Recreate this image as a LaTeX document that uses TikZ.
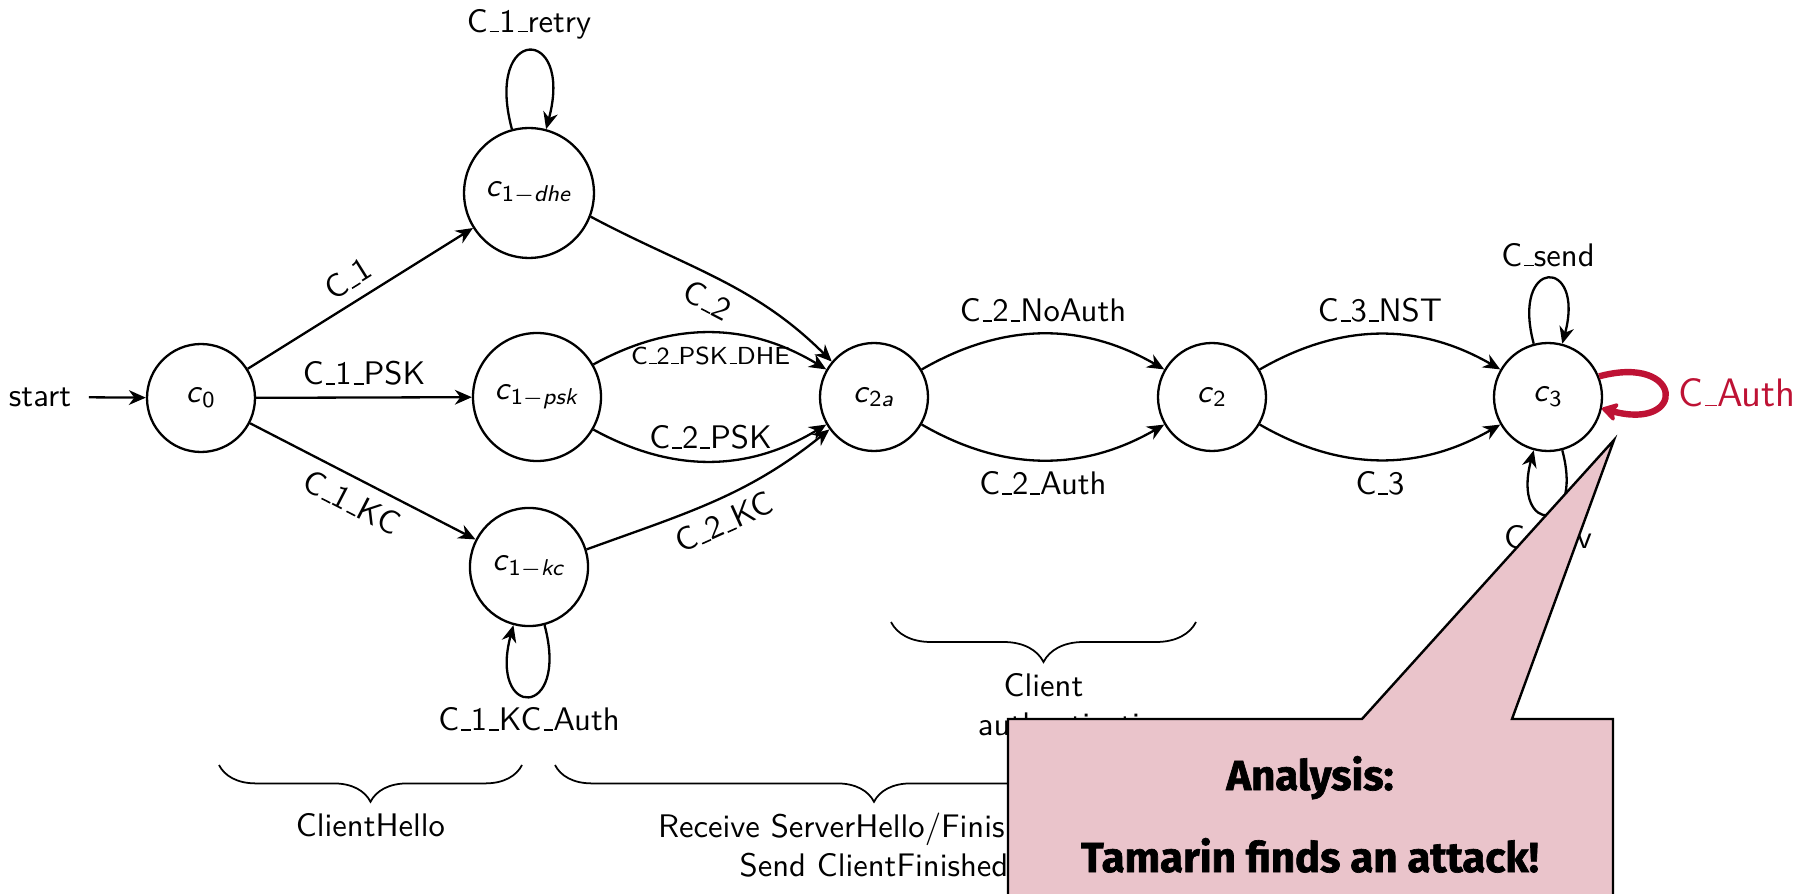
\documentclass[tikz,border=0pt]{standalone}
\usepackage{fontspec}
\usetikzlibrary{arrows.meta,decorations.pathreplacing}
\newfontfamily\calloutfont{Fira Sans}[BoldFeatures={FakeBold=1.6}]
\definecolor{authred}{RGB}{190,18,52}
\definecolor{calloutpink}{RGB}{234,196,203}
% underscore drawn as a short baseline rule
\newcommand\us{\leavevmode\kern.06em\vbox{\hrule width.3em height .5pt}}
% state name: italic c with a subscript
\newcommand\cst[1]{\textit{c}\textsubscript{#1}}
\begin{document}
\begin{tikzpicture}[x=0.3125pt,y=0.3125pt,
  font=\sffamily\fontsize{10.2}{12.2}\selectfont,
  >={Stealth[length=5.3pt,width=4.6pt,inset=1.7pt]},
  stnode/.style={circle, draw, line width=0.72pt, inner sep=0pt},
  tr/.style={->, line width=0.72pt},
  small/.style={font=\sffamily\fontsize{7.7}{9.5}\selectfont, inner sep=4pt},
  bracedown/.style={decorate, line width=0.55pt, decoration={brace, mirror, amplitude=#1}},
  callfont/.style={font={\calloutfont\bfseries\fontsize{13.1}{15}\selectfont}}]
\useasboundingbox (0,0) rectangle (1806,-894);

% states
\node[stnode, minimum size=33.75pt] (c0) at (201,-398) {\cst{0}};
\node[stnode, minimum size=40.6pt] (c1dhe) at (529,-193) {\cst{1$-$\textit{dhe}}};
\node[stnode, minimum size=40pt] (c1psk) at (537,-397) {\cst{1$-$\textit{psk}}};
\node[stnode, minimum size=36.9pt] (c1kc) at (529,-567) {\cst{1$-$\textit{kc}}};
\node[stnode, minimum size=33.75pt] (c2a) at (874,-397) {\cst{2\textit{a}}};
\node[stnode, minimum size=33.75pt] (c2) at (1212,-397) {\cst{2}};
\node[stnode, minimum size=33.75pt] (c3) at (1548,-397) {\cst{3}};
\node[inner sep=5.4pt] (start) at (40,-397) {start};

% transitions
\draw[tr] (start) -- (c0);
\draw[tr] (c0) -- node[sloped, above] (lc1) {C\us1} (c1dhe);
\draw[tr] (c0) -- node[above] (lc1psk) {C\us1\us PSK} (c1psk);
\draw[tr] (c0) -- node[sloped, below] (lc1kc) {C\us1\us KC} (c1kc);
\draw[tr] (c1dhe.105) .. controls +(105:108) and +(75:108) .. (c1dhe.75)
  node[pos=0.5, above] (lretry) {C\us1\us retry};
\draw[tr] (c1kc.-75) .. controls +(-75:98) and +(-105:98) .. (c1kc.-105)
  node[pos=0.5, below] (lkcauth) {C\us1\us KC\us Auth};

\draw[tr] (c1dhe.-21) to[out=-28, in=135] node[sloped, below] (lc2) {C\us2} (c2a.140);
\draw[tr] (c1psk) to[bend left=30] node[below, small] (lpskdhe) {C\us2\us PSK\us DHE} (c2a);
\draw[tr] (c1psk) to[bend right=30] node[above] (lpsk) {C\us2\us PSK} (c2a);
\draw[tr] (c1kc.17) to[out=20, in=-141] node[sloped, below] (lc2kc) {C\us2\us KC} (c2a.-144);

\draw[tr] (c2a) to[bend left=30] node[above] (lnoauth) {C\us2\us NoAuth} (c2);
\draw[tr] (c2a) to[bend right=30] node[below] (lauth) {C\us2\us Auth} (c2);
\draw[tr] (c2) to[bend left=30] node[above] (lnst) {C\us3\us NST} (c3);
\draw[tr] (c2) to[bend right=30] node[below] (lc3) {C\us3} (c3);

\draw[tr] (c3.105) .. controls +(105:90) and +(75:90) .. (c3.75)
  node[pos=0.5, above] (lsend) {C\us send};
\draw[tr] (c3.-75) .. controls +(-75:88) and +(-105:88) .. (c3.-105)
  node[pos=0.5, below] (lrecv) {C\us recv};
\draw[->, authred, line width=2pt, line join=round,
      >={Stealth[length=5.8pt,width=7pt,inset=1.5pt,round]}]
  (c3.22) .. controls +(15:88) and +(-15:88) .. (c3.-12)
  node[pos=0.5, right, text=authred, font=\sffamily\fontsize{12.4}{14}\selectfont] (lcauth) {C\us Auth};

% phase braces
\coordinate (bhl) at (219,-765); \coordinate (bhr) at (522,-765);
\coordinate (brl) at (555,-765); \coordinate (brr) at (1193,-765);
\coordinate (bal) at (891,-622); \coordinate (bar) at (1196,-622);
\draw[bracedown=11.5pt] (bhl) -- (bhr)
  node[midway, below, yshift=-11.5pt] (phello) {ClientHello};
\draw[bracedown=11.5pt] (brl) -- (brr)
  node[midway, below, yshift=-11.5pt, align=center] (precv)
  {\makebox[135pt][l]{Receive ServerHello/Finished}\\Send ClientFinished};
\draw[bracedown=12.5pt] (bal) -- (bar)
  node[midway, below, yshift=-12.5pt, align=center] (pauth)
  {Client\\\makebox[41pt][l]{authentication}};

% result callout
\filldraw[fill=calloutpink, draw=black, line width=0.75pt]
  (1008,-905) -- (1008,-719) -- (1362,-719) -- (1614,-440) -- (1512,-719)
  -- (1613,-719) -- (1613,-905) -- cycle;
\node[callfont, anchor=base] (analysis) at (1310,-790) {Analysis:};
\node[callfont, anchor=base] (attack) at (1310,-872) {Tamarin finds an attack!};
\end{tikzpicture}
\end{document}
